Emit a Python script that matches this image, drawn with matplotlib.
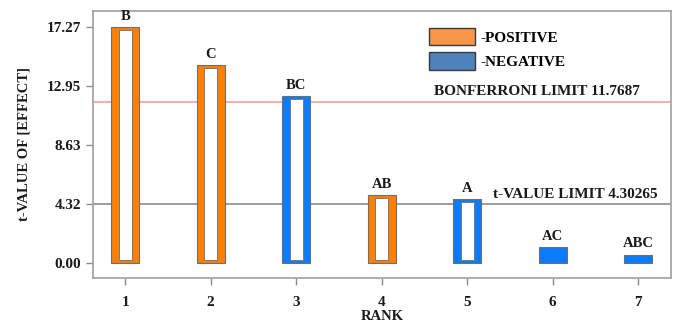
import numpy as np
import matplotlib.pyplot as plt
from matplotlib.patches import Patch

# Effect t-values ordered by rank
ranks = [1, 2, 3, 4, 5, 6, 7]
effects = ['B', 'C', 'BC', 'AB', 'A', 'AC', 'ABC']
t_values = [17.27, 14.48, 12.2, 4.97, 4.68, 1.17, 0.6]
signs = ['pos', 'pos', 'neg', 'pos', 'neg', 'neg', 'neg']

bonferroni_limit = 11.7687
t_limit = 4.30265
yticks = [0.00, 4.32, 8.63, 12.95, 17.27]

plt.rcParams['font.family'] = 'Liberation Serif'
plt.rcParams['font.weight'] = 'bold'

bar_colors = {'pos': '#FF7F00', 'neg': '#0A7CFF'}
text_color = '#1a1a1a'

fig = plt.figure(figsize=(6.8, 3.25), dpi=100)
ax = fig.add_axes([0.137, 0.145, 0.850, 0.821])

x = np.array(ranks)
width = 0.33
colors = [bar_colors[s] for s in signs]
ax.bar(x, t_values, width, color=colors, edgecolor='#6e6e6e', linewidth=0.8, zorder=3)

# hollow centre for the taller bars
inner_w = 0.155
inset_bottom = 0.22
inset_top = 0.22
for xi, v in zip(x, t_values):
    if v > 2:
        ax.bar(xi, v - inset_bottom - inset_top, inner_w, bottom=inset_bottom,
               color='white', edgecolor='#7a7a7a', linewidth=0.7, zorder=4)

for xi, v, lab in zip(x, t_values, effects):
    ax.annotate(lab, (xi, v), xytext=(0, 3), textcoords='offset points',
                ha='center', va='bottom', fontsize=10.5, fontweight='bold', color=text_color)

ax.axhline(bonferroni_limit, color='#F4A0A0', linewidth=1.2, zorder=2)
ax.axhline(t_limit, color='#8c8c8c', linewidth=1.2, zorder=2)
ax.text(7.02, bonferroni_limit + 0.3, 'BONFERRONI LIMIT 11.7687', ha='right', va='bottom',
        fontsize=11, fontweight='bold', color=text_color)
ax.text(7.23, t_limit + 0.25, 't-VALUE LIMIT 4.30265', ha='right', va='bottom',
        fontsize=11, fontweight='bold', color=text_color)

ax.set_xlim(0.626, 7.386)
ax.set_ylim(-1.1, 18.43)
ax.set_xticks(ranks)
ax.set_yticks(yticks)
ax.set_yticklabels([f'{t:.2f}' for t in yticks])
ax.tick_params(axis='both', colors='#8c8c8c', labelcolor=text_color, labelsize=11,
               length=5, width=1, direction='out')
ax.tick_params(axis='x', pad=8)
for sp in ax.spines.values():
    sp.set_color('#a0a0a0')
    sp.set_linewidth(1.2)

ax.set_xlabel('RANK', fontsize=10.5, fontweight='bold', color=text_color, labelpad=1)
ax.set_ylabel('t-VALUE OF [EFFECT]', fontsize=10.5, fontweight='bold', color=text_color, labelpad=12)

handles = [Patch(facecolor='#F79646', edgecolor='#3a3a3a', label='-POSITIVE'),
           Patch(facecolor='#4F81BD', edgecolor='#3a3a3a', label='-NEGATIVE')]
ax.legend(handles=handles, loc='upper left', bbox_to_anchor=(0.57, 0.96), frameon=False,
          fontsize=11, handlelength=3.0, handleheight=1.4, handletextpad=0.4,
          labelspacing=0.45, borderaxespad=0)

fig.savefig('out.png', dpi=100)
